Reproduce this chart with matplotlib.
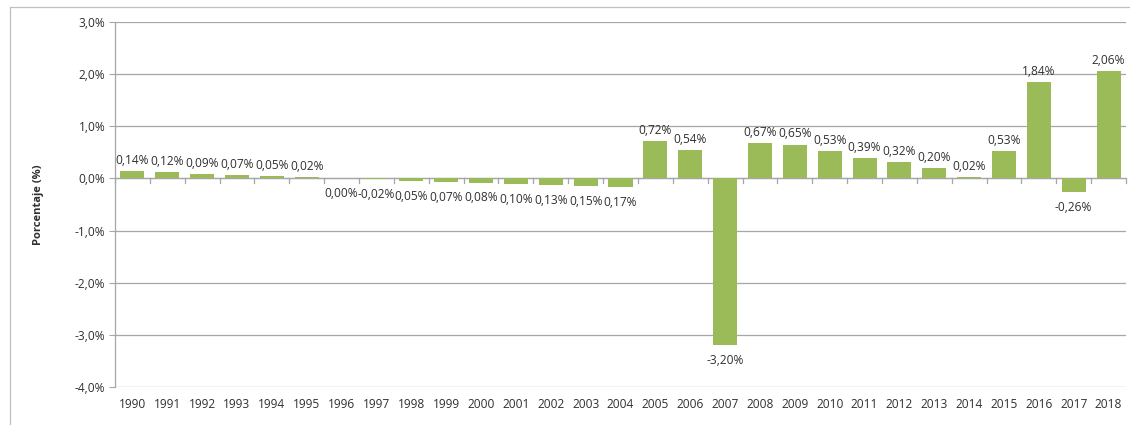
import numpy as np
import matplotlib.pyplot as plt
from matplotlib.lines import Line2D

# ============ Datos ============
anios = [str(a) for a in range(1990, 2019)]
valores = [0.14, 0.12, 0.09, 0.07, 0.05, 0.02, -0.0, -0.02, -0.05, -0.07,
           -0.08, -0.10, -0.13, -0.15, -0.17, 0.72, 0.54, -3.20, 0.67, 0.65,
           0.53, 0.39, 0.32, 0.20, 0.02, 0.53, 1.84, -0.26, 2.06]
# etiquetas tal como aparecen en el grafico
etiquetas = ['0,14%', '0,12%', '0,09%', '0,07%', '0,05%', '0,02%', '0,00%',
             '-0,02%', '0,05%', '0,07%', '0,08%', '0,10%', '0,13%', '0,15%',
             '0,17%', '0,72%', '0,54%', '-3,20%', '0,67%', '0,65%', '0,53%',
             '0,39%', '0,32%', '0,20%', '0,02%', '0,53%', '1,84%', '-0,26%',
             '2,06%']
yticks = [3, 2, 1, 0, -1, -2, -3, -4]

VERDE = '#9BBB59'
GRIS = '#A6A6A6'
TXT = '#303030'
FS = 8.6

plt.rcParams['font.family'] = ['Open Sans', 'DejaVu Sans']

fig = plt.figure(figsize=(11.30, 4.25), dpi=100)
ax = fig.add_axes([115/1130, 1 - 387/425, (1126-115)/1130, (387-22)/425])

x = np.arange(len(anios))
ax.bar(x, valores, width=0.69, color=VERDE, zorder=3)

for xi, v, lab in zip(x, valores, etiquetas):
    if not np.signbit(v):
        ax.text(xi, v + 0.08, lab, ha='center', va='bottom', fontsize=FS, color=TXT)
    else:
        ax.text(xi, v - 0.17, lab, ha='center', va='top', fontsize=FS, color=TXT)

ax.set_xlim(-0.5, len(anios) - 0.5)
ax.set_ylim(-4, 3)
ax.set_yticks(yticks)
ax.set_yticklabels([f'{t:.1f}%'.replace('.', ',') for t in yticks], fontsize=FS, color=TXT)
ax.yaxis.grid(True, color=GRIS, lw=0.9, zorder=0)
ax.tick_params(axis='y', length=4, color=GRIS, pad=3)

# eje x: etiquetas abajo, marcas en la linea del cero
ax.set_xticks(x)
ax.set_xticklabels(anios, fontsize=FS, color=TXT)
ax.tick_params(axis='x', length=0, pad=8)
for b in np.arange(-0.5, len(anios), 1.0):
    ax.plot([b, b], [0, -0.08], color=GRIS, lw=0.9, zorder=2, clip_on=False)
ax.axhline(0, color=GRIS, lw=0.9, zorder=2)

for s in ['top', 'right', 'bottom']:
    ax.spines[s].set_visible(False)
ax.spines['left'].set_color(GRIS)
ax.spines['left'].set_linewidth(0.9)

ax.set_ylabel('Porcentaje (%)', fontsize=8, fontweight='bold', color=TXT, labelpad=22)

# marco exterior (izquierda y arriba)
fig.add_artist(Line2D([10/1130, 10/1130], [0, 1 - 7/425], transform=fig.transFigure, color='#C0C0C0', lw=0.9))
fig.add_artist(Line2D([10/1130, 1], [1 - 7/425, 1 - 7/425], transform=fig.transFigure, color='#C0C0C0', lw=0.9))

fig.savefig('out.png', dpi=100, facecolor='white')
